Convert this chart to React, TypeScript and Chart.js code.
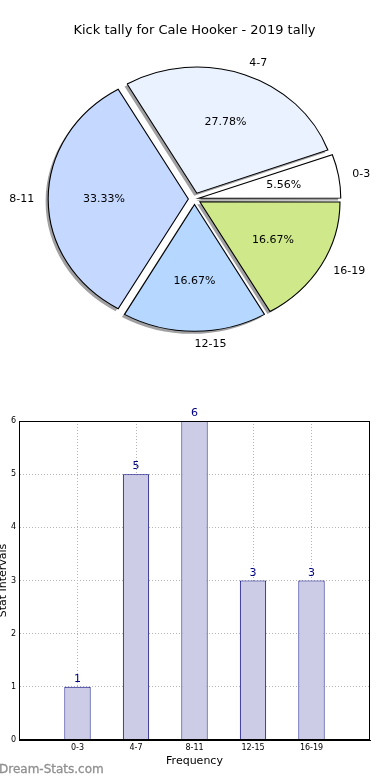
import React, { useEffect, useRef } from "react";
import { Chart, registerables } from "chart.js";

Chart.register(...registerables);

// ---- data ----
const TITLE = "Kick tally for Cale Hooker - 2019 tally";
const categories = ["0-3", "4-7", "8-11", "12-15", "16-19"];
const tallies = [1, 5, 6, 3, 3];
const sliceColors = ["#ffffff", "#eaf2ff", "#c5d8ff", "#b6d7ff", "#cfe98a"];
const yTickValues = [0, 1, 2, 3, 4, 5, 6];
const X_TITLE = "Frequency";
const Y_TITLE = "Stat Intervals";
const WATERMARK = "Dream-Stats.com";

// ---- styling ----
const FAMILY = "'DejaVu Sans', sans-serif";
const SX = 1.106; // horizontal stretch of the (non-equal-aspect) pie
const EXPLODE = 0.05; // fraction of radius
const RADIUS = 126;
const LABEL_DIST = 1.1;
const PCT_DIST = 0.6;
const SHADOW = "#a0a0a2";
const SHADOW_DX = -2.6;
const SHADOW_DY = 2.5;

const total = tallies.reduce((a, b) => a + b, 0);
// matplotlib draws counter-clockwise from east; Chart.js draws clockwise -> reverse order
const order = categories.map((_, i) => categories.length - 1 - i);
const pieLabels = order.map((i) => categories[i]);
const pieValues = order.map((i) => tallies[i]);
const pieColors = order.map((i) => sliceColors[i]);

const ARC_KEYS = [
  "offset", "spacing", "circular", "borderAlign", "backgroundColor", "borderWidth",
  "borderColor", "borderJoinStyle", "borderRadius", "borderDash", "borderDashOffset", "selfJoin",
];

const piePlugin = {
  id: "ellipsePie",
  beforeDatasetsDraw(chart: any) {
    const meta = chart.getDatasetMeta(0);
    const el0 = meta.data[0];
    const ctx = chart.ctx;
    ctx.save();
    ctx.translate(el0.x, el0.y);
    ctx.scale(SX, 1);
    ctx.translate(-el0.x, -el0.y);
    // shadows
    ctx.save();
    ctx.translate(SHADOW_DX / SX, SHADOW_DY);
    meta.data.forEach((el: any) => {
      const o = el.options;
      const copy: any = {};
      ARC_KEYS.forEach((k) => (copy[k] = o[k]));
      copy.backgroundColor = SHADOW;
      copy.borderWidth = 0;
      el.options = copy;
      el.draw(ctx);
      el.options = o;
    });
    ctx.restore();
  },
  afterDatasetsDraw(chart: any) {
    const ctx = chart.ctx;
    ctx.restore();
    const meta = chart.getDatasetMeta(0);
    ctx.save();
    ctx.font = `11px ${FAMILY}`;
    ctx.fillStyle = "#000";
    ctx.textBaseline = "middle";
    meta.data.forEach((el: any, i: number) => {
      const mid = (el.startAngle + el.endAngle) / 2;
      const c = Math.cos(mid);
      const s = Math.sin(mid);
      const R = el.outerRadius;
      const lk = EXPLODE + LABEL_DIST;
      const lx = el.x + SX * R * lk * c;
      const ly = el.y + R * lk * s;
      ctx.textAlign = c >= 0 ? "left" : "right";
      ctx.fillText(pieLabels[i], lx, ly);
      const pk = EXPLODE + PCT_DIST;
      const px = el.x + SX * R * pk * c;
      const py = el.y + R * pk * s;
      ctx.textAlign = "center";
      ctx.fillText(((pieValues[i] / total) * 100).toFixed(2) + "%", px, py);
    });
    ctx.restore();
  },
};

const framePlugin = {
  id: "frame",
  afterDraw(chart: any) {
    const { ctx, chartArea } = chart;
    ctx.save();
    ctx.strokeStyle = "#000";
    ctx.lineWidth = 1;
    const l = Math.round(chartArea.left) + 0.5;
    const t = Math.round(chartArea.top) + 0.5;
    const r = Math.round(chartArea.right) - 0.5;
    const b = Math.round(chartArea.bottom) - 0.5;
    ctx.strokeRect(l, t, r - l, b - t);
    ctx.restore();
  },
};

const valueLabelPlugin = {
  id: "valueLabels",
  afterDatasetsDraw(chart: any) {
    const ctx = chart.ctx;
    const meta = chart.getDatasetMeta(0);
    ctx.save();
    ctx.font = `11px ${FAMILY}`;
    ctx.fillStyle = "#000080";
    ctx.textAlign = "center";
    ctx.textBaseline = "alphabetic";
    meta.data.forEach((el: any, i: number) => {
      ctx.fillText(String(tallies[i]), el.x, el.y - 5);
    });
    ctx.restore();
  },
};

export default function App() {
  const pieRef = useRef<HTMLCanvasElement | null>(null);
  const barRef = useRef<HTMLCanvasElement | null>(null);

  useEffect(() => {
    const pie = new Chart(pieRef.current as HTMLCanvasElement, {
      type: "pie",
      data: {
        labels: pieLabels,
        datasets: [
          {
            data: pieValues,
            backgroundColor: pieColors,
            borderColor: "#000",
            borderWidth: 1,
            borderJoinStyle: "miter",
            offset: (ctx: any) => {
              const circ = ((ctx.raw as number) / total) * 2 * Math.PI;
              const fix = 1 - Math.sin(Math.min(Math.PI, circ));
              return (4 * EXPLODE * RADIUS) / (1 + fix);
            },
          } as any,
        ],
      },
      options: {
        animation: false,
        responsive: false,
        rotation: 90,
        radius: RADIUS,
        layout: { padding: { left: 0, right: 1, top: 0, bottom: 40.6 } },
        plugins: {
          legend: { display: false },
          tooltip: { enabled: false },
          title: {
            display: true,
            text: TITLE,
            color: "#000",
            font: { family: FAMILY, size: 13, weight: "normal" as any },
            padding: { top: 23, bottom: 0 },
          },
        },
      } as any,
      plugins: [piePlugin],
    });

    const bar = new Chart(barRef.current as HTMLCanvasElement, {
      type: "bar",
      data: {
        datasets: [
          {
            data: tallies.map((v, i) => ({ x: i, y: v })),
            backgroundColor: "#ccccE6",
            borderColor: "#000080",
            borderWidth: 1,
            categoryPercentage: 1,
            barPercentage: 0.45,
          } as any,
        ],
      },
      options: {
        animation: false,
        responsive: false,
        layout: { padding: { left: 0, right: 20, top: 21, bottom: 0 } },
        plugins: { legend: { display: false }, tooltip: { enabled: false } },
        scales: {
          x: {
            type: "linear",
            min: -1,
            max: 5,
            offset: false,
            z: 1,
            afterBuildTicks: (s: any) => {
              s.ticks = categories.map((_, i) => ({ value: i }));
            },
            ticks: {
              autoSkip: false,
              maxRotation: 0,
              padding: 3,
              color: "#000",
              font: { family: FAMILY, size: 8 },
              callback: (v: any) => categories[v as number] ?? "",
            },
            grid: { offset: false, color: "#b4b4b4", drawTicks: false, lineWidth: 1 },
            border: { display: true, color: "#000", dash: [1, 2] },
            title: {
              display: true,
              text: X_TITLE,
              color: "#000",
              font: { family: FAMILY, size: 11 },
              padding: { top: 0, bottom: 12 },
            },
            afterFit: (s: any) => {
              s.height = 40;
            },
          },
          y: {
            type: "linear",
            min: 0,
            max: 6,
            z: 1,
            afterBuildTicks: (s: any) => {
              s.ticks = yTickValues.map((v) => ({ value: v }));
            },
            ticks: {
              padding: 3,
              color: "#000",
              font: { family: FAMILY, size: 8 },
            },
            grid: { color: "#b4b4b4", drawTicks: false, lineWidth: 1 },
            border: { display: true, color: "#000", dash: [1, 2] },
            title: {
              display: true,
              text: Y_TITLE,
              color: "#000",
              font: { family: FAMILY, size: 11 },
              padding: { top: -3.5, bottom: 0 },
            },
            afterFit: (s: any) => {
              s.width = 19;
            },
          },
        },
      } as any,
      plugins: [valueLabelPlugin, framePlugin],
    });

    return () => {
      pie.destroy();
      bar.destroy();
    };
  }, []);

  return (
    <div
      style={{
        position: "fixed",
        left: 0,
        top: 0,
        width: 390,
        height: 780,
        background: "#fff",
        overflow: "hidden",
      }}
    >
      <canvas
        ref={pieRef}
        width={390}
        height={400}
        style={{ position: "absolute", left: 0, top: 0, display: "block" }}
      />
      <canvas
        ref={barRef}
        width={390}
        height={380}
        style={{ position: "absolute", left: 0, top: 400, display: "block" }}
      />
      <div
        style={{
          position: "absolute",
          left: -1,
          top: 761,
          fontFamily: FAMILY,
          fontSize: 12,
          color: "#8f8f8f",
          whiteSpace: "nowrap",
          lineHeight: "16px",
          WebkitTextStroke: "0.3px #8f8f8f",
        }}
      >
        {WATERMARK}
      </div>
    </div>
  );
}
